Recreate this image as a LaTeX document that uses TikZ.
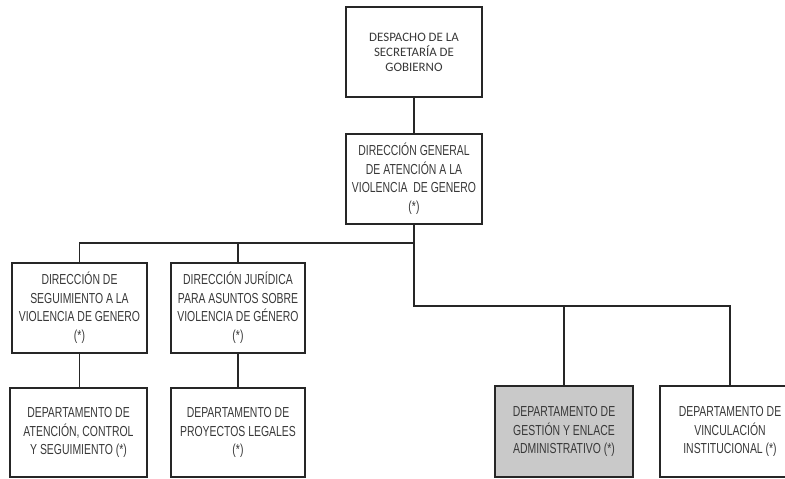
\documentclass[tikz,border=0pt]{standalone}
\usepackage{fontspec}
\setmainfont{Liberation Sans}[FakeStretch=0.72]
\newfontfamily\headfont{Carlito}
\begin{document}
\begin{tikzpicture}[x=1pt,y=-1pt,
  unitbox/.style={draw=black!85,line width=2pt,minimum width=136pt,minimum height=90pt,
    inner sep=0pt,align=center,text=black!78,
    font=\fontsize{14.5}{18.5}\selectfont},
  headbox/.style={unitbox,font=\headfont\fontsize{12.9}{15}\selectfont},
  link/.style={draw=black!85,line width=1.3pt}]
\useasboundingbox (0,0) rectangle (785,479);
\begin{scope}
\clip (0,0) rectangle (785,479);
% top level
\node[headbox] (sec) at (414,52) {DESPACHO DE LA\\SECRETAR\'IA DE\\GOBIERNO};
\node[unitbox] (dg) at (414,178.5) {DIRECCI\'ON GENERAL\\DE ATENCI\'ON A LA\\VIOLENCIA \ DE GENERO\\(*)};
% directions
\node[unitbox,minimum width=135pt] (dsv) at (79.5,307.5) {DIRECCI\'ON DE\\SEGUIMIENTO A LA\\VIOLENCIA DE GENERO\\(*)};
\node[unitbox,minimum width=134pt] (dj) at (238,307.5) {DIRECCI\'ON JUR\'IDICA\\PARA ASUNTOS SOBRE\\VIOLENCIA DE G\'ENERO\\(*)};
% departments
\node[unitbox,minimum width=137pt,minimum height=89pt] (dacs) at (78.5,432.5) {DEPARTAMENTO DE\\ATENCI\'ON, CONTROL\\Y SEGUIMIENTO (*)};
\node[unitbox,minimum width=134pt,minimum height=89pt] (dpl) at (238,432.5) {DEPARTAMENTO DE\\PROYECTOS LEGALES\\(*)};
\node[unitbox,fill=gray!42,minimum width=138pt,minimum height=91pt] (dgea) at (564,431.5) {DEPARTAMENTO DE\\GESTI\'ON Y ENLACE\\ADMINISTRATIVO (*)};
\node[unitbox,minimum width=140pt,minimum height=91pt] (dvi) at (730,431.5) {DEPARTAMENTO DE\\VINCULACI\'ON\\INSTITUCIONAL (*)};
% junctions
\coordinate (j1) at (414,243);
\coordinate (j2) at (414,306);
% connectors
\draw[link] (sec.south) -- (dg.north);
\draw[link] (dg.south) -- (j2) -| (dvi.north);
\draw[link] (j1) -| (dsv.north);
\draw[link] (dj.north) -- (dj.north |- j1);
\draw[link] (dgea.north) -- (dgea.north |- j2);
\draw[link] (dsv.south) -- (dacs.north -| dsv.south);
\draw[link] (dj.south) -- (dpl.north);
\end{scope}
\end{tikzpicture}
\end{document}
